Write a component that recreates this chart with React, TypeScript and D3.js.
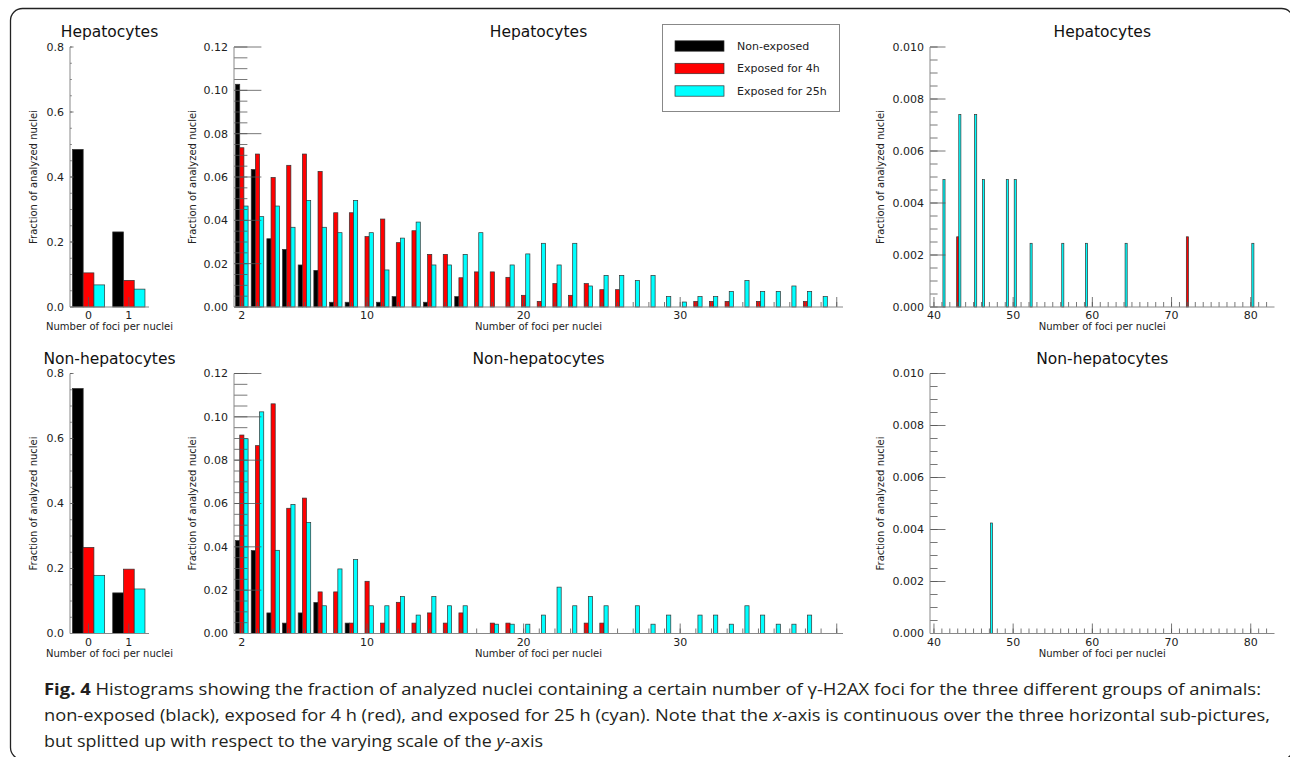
import React, { useEffect, useRef } from 'react';
import * as d3 from 'd3';

// foci per nucleus (x categories)
const lowFoci = [0, 1];
const midFoci = [2, 3, 4, 5, 6, 7, 8, 9, 10, 11, 12, 13, 14, 15, 16, 17, 18, 19, 20, 21, 22, 23, 24, 25, 26, 27, 28, 29, 30, 31, 32, 33, 34, 35, 36, 37, 38, 39];
const hepHighFoci = [41, 43, 45, 46, 49, 50, 52, 56, 59, 64, 72, 80];
const nonHighFoci = [47];

// Hepatocytes
const hepLowNonExposed = [0.485, 0.231];
const hepLow4h = [0.105, 0.082];
const hepLow25h = [0.068, 0.055];

const hepMidNonExposed = [0.1028, 0.0635, 0.0315, 0.0266, 0.0194, 0.0169, 0.0022, 0.0022, 0, 0.0022, 0.0048, 0, 0.0022, 0, 0.0048, 0, 0, 0, 0, 0, 0, 0, 0, 0, 0, 0, 0, 0, 0, 0, 0, 0, 0, 0, 0, 0, 0, 0];
const hepMid4h = [0.0735, 0.0706, 0.0598, 0.0654, 0.0706, 0.0626, 0.0435, 0.0435, 0.0325, 0.0406, 0.0297, 0.0352, 0.0243, 0.0243, 0.0135, 0.0162, 0.0162, 0.0137, 0.0054, 0.0026, 0.0108, 0.0054, 0.0108, 0.008, 0.008, 0, 0, 0, 0, 0.0026, 0.0026, 0.0026, 0, 0.0026, 0, 0, 0.0026, 0];
const hepMid25h = [0.0466, 0.0417, 0.0466, 0.0368, 0.0492, 0.0368, 0.0343, 0.0492, 0.0343, 0.0171, 0.0318, 0.0392, 0.0194, 0.0194, 0.0243, 0.0343, 0, 0.0194, 0.0245, 0.0294, 0.0194, 0.0294, 0.0097, 0.0146, 0.0146, 0.0122, 0.0146, 0.0048, 0.0023, 0.0048, 0.0048, 0.0072, 0.0122, 0.0072, 0.0072, 0.0097, 0.0072, 0.0048];

const hepHighNonExposed = [0, 0, 0, 0, 0, 0, 0, 0, 0, 0, 0, 0];
const hepHigh4h = [0, 0.0027, 0, 0, 0, 0, 0, 0, 0, 0, 0.0027, 0];
const hepHigh25h = [0.0049, 0.0074, 0.0074, 0.0049, 0.0049, 0.0049, 0.00245, 0.00245, 0.00245, 0.00245, 0, 0.00245];

// Non-hepatocytes
const nonLowNonExposed = [0.754, 0.125];
const nonLow4h = [0.265, 0.198];
const nonLow25h = [0.179, 0.137];

const nonMidNonExposed = [0.0429, 0.0383, 0.0095, 0.0048, 0.0095, 0.0143, 0, 0.0048, 0, 0, 0, 0, 0, 0, 0, 0, 0, 0, 0, 0, 0, 0, 0, 0, 0, 0, 0, 0, 0, 0, 0, 0, 0, 0, 0, 0, 0, 0];
const nonMid4h = [0.0916, 0.0867, 0.106, 0.0578, 0.0625, 0.0192, 0.0192, 0.0048, 0.0241, 0.0048, 0.0144, 0.0048, 0.0095, 0.0048, 0.0095, 0, 0.0048, 0.0048, 0, 0, 0, 0, 0.0048, 0.0048, 0, 0, 0, 0, 0, 0, 0, 0, 0, 0, 0, 0, 0, 0];
const nonMid25h = [0.0899, 0.1023, 0.0384, 0.0596, 0.0512, 0.0128, 0.0298, 0.0341, 0.0128, 0.0128, 0.0171, 0.0085, 0.0171, 0.0128, 0.0128, 0, 0.0043, 0.0043, 0.0043, 0.0085, 0.0214, 0.0128, 0.0171, 0.0128, 0, 0.0128, 0.0043, 0.0085, 0, 0.0085, 0.0085, 0.0043, 0.0128, 0.0085, 0.0043, 0.0043, 0.0085, 0];

const nonHighNonExposed = [0];
const nonHigh4h = [0];
const nonHigh25h = [0.00425];

const seriesNames = ['Non-exposed', 'Exposed for 4h', 'Exposed for 25h'];
const seriesColors = ['#000000', '#ff0000', '#00ffff'];

// tick labels
const lowYTicks = [0, 0.2, 0.4, 0.6, 0.8];
const midYTicks = [0, 0.02, 0.04, 0.06, 0.08, 0.1, 0.12];
const highYTicks = [0, 0.002, 0.004, 0.006, 0.008, 0.01];
const lowXTicks = [0, 1];
const midXTicks = [2, 10, 20, 30];
const highXTicks = [40, 50, 60, 70, 80];

const FONT = 'DejaVu Sans, sans-serif';

type PanelCfg = {
  title: string;
  foci: number[];
  series: number[][];
  xDomain: [number, number];
  xRange: [number, number];
  top: number;
  bottom: number;
  yTicks: number[];
  yMinorStep: number;
  yDigits: number;
  xTicks: number[];
  xMajor: number[];
  xMinor: number[];
  yLabelX: number;
};

function drawPanel(svg: any, p: PanelCfg) {
  const g = svg.append('g');
  const x = d3.scaleLinear().domain(p.xDomain).range(p.xRange);
  const yMax = p.yTicks[p.yTicks.length - 1];
  const y = d3.scaleLinear().domain([0, yMax]).range([p.bottom, p.top]);
  const width = p.xRange[1] - p.xRange[0];
  const bw = 0.8 / 3;

  // bars: three per foci value
  p.series.forEach((vals, s) => {
    g.append('g')
      .selectAll('rect')
      .data(p.foci.map((f, i) => ({ f, v: vals[i] })).filter(d => d.v > 0))
      .enter()
      .append('rect')
      .attr('x', d => x(d.f - 0.4 + s * bw))
      .attr('width', d => x(d.f - 0.4 + (s + 1) * bw) - x(d.f - 0.4 + s * bw))
      .attr('y', d => y(d.v))
      .attr('height', d => y(0) - y(d.v))
      .attr('fill', seriesColors[s])
      .attr('stroke', '#333')
      .attr('stroke-width', 0.7);
  });

  const tickColor = '#555';
  const majorLen = width * 0.045;
  const minorLen = width * 0.022;
  const x0 = p.xRange[0];

  // y ticks, pointing inward
  const yMinor = d3.range(0, yMax + p.yMinorStep / 2, p.yMinorStep);
  g.selectAll('.yminor').data(yMinor).enter().append('line')
    .attr('x1', x0).attr('x2', x0 + minorLen)
    .attr('y1', d => y(d)).attr('y2', d => y(d))
    .attr('stroke', tickColor).attr('stroke-width', 0.8);
  g.selectAll('.ymajor').data(p.yTicks).enter().append('line')
    .attr('x1', x0).attr('x2', x0 + majorLen)
    .attr('y1', d => y(d)).attr('y2', d => y(d))
    .attr('stroke', tickColor).attr('stroke-width', 0.8);
  const fmt = d3.format(`.${p.yDigits}f`);
  g.selectAll('.ylab').data(p.yTicks).enter().append('text')
    .attr('x', x0 - 6).attr('y', d => y(d)).attr('dy', '0.36em')
    .attr('text-anchor', 'end')
    .style('font-family', FONT).style('font-size', '11px').attr('fill', '#222')
    .text(d => fmt(d));

  // x ticks, pointing up
  g.selectAll('.xminor').data(p.xMinor).enter().append('line')
    .attr('x1', d => x(d)).attr('x2', d => x(d))
    .attr('y1', p.bottom).attr('y2', p.bottom - 5)
    .attr('stroke', tickColor).attr('stroke-width', 0.8);
  g.selectAll('.xmajor').data(p.xMajor).enter().append('line')
    .attr('x1', d => x(d)).attr('x2', d => x(d))
    .attr('y1', p.bottom).attr('y2', p.bottom - 10)
    .attr('stroke', tickColor).attr('stroke-width', 0.8);
  g.selectAll('.xlab').data(p.xTicks).enter().append('text')
    .attr('x', d => x(d)).attr('y', p.bottom + 12)
    .attr('text-anchor', 'middle')
    .style('font-family', FONT).style('font-size', '11px').attr('fill', '#222')
    .text(d => String(d));

  // spines (left and bottom only)
  g.append('line').attr('x1', x0).attr('x2', x0).attr('y1', p.top).attr('y2', p.bottom)
    .attr('stroke', '#888').attr('stroke-width', 1);
  g.append('line').attr('x1', x0).attr('x2', p.xRange[1]).attr('y1', p.bottom).attr('y2', p.bottom)
    .attr('stroke', '#888').attr('stroke-width', 1);

  const cx = (p.xRange[0] + p.xRange[1]) / 2;
  g.append('text')
    .attr('x', cx).attr('y', p.top - 10)
    .attr('text-anchor', 'middle')
    .style('font-family', FONT).style('font-size', '15.5px').attr('fill', '#111')
    .text(p.title);

  g.append('text')
    .attr('x', cx).attr('y', p.bottom + 23)
    .attr('text-anchor', 'middle')
    .style('font-family', FONT).style('font-size', '10px').attr('fill', '#222')
    .text('Number of foci per nuclei');

  g.append('text')
    .attr('transform', `translate(${p.yLabelX},${(p.top + p.bottom) / 2}) rotate(-90)`)
    .attr('text-anchor', 'middle')
    .style('font-family', FONT).style('font-size', '10px').attr('fill', '#222')
    .text('Fraction of analyzed nuclei');
}

const App = () => {
  const svgRef = useRef<SVGSVGElement>(null);

  useEffect(() => {
    const svg = d3.select(svgRef.current);
    svg.selectAll('*').remove();

    svg.append('rect').attr('width', 1290).attr('height', 757).attr('fill', '#fff');

    // outer frame
    svg.append('rect')
      .attr('x', 10.5).attr('y', 8.5).attr('width', 1283).attr('height', 751).attr('rx', 12)
      .attr('fill', 'none').attr('stroke', '#222').attr('stroke-width', 1.3);

    const rows = [
      { top: 47, bottom: 307, name: 'Hepatocytes', low: [hepLowNonExposed, hepLow4h, hepLow25h], mid: [hepMidNonExposed, hepMid4h, hepMid25h], highFoci: hepHighFoci, high: [hepHighNonExposed, hepHigh4h, hepHigh25h] },
      { top: 373.5, bottom: 633.5, name: 'Non-hepatocytes', low: [nonLowNonExposed, nonLow4h, nonLow25h], mid: [nonMidNonExposed, nonMid4h, nonMid25h], highFoci: nonHighFoci, high: [nonHighNonExposed, nonHigh4h, nonHigh25h] },
    ];

    rows.forEach(r => {
      drawPanel(svg, {
        title: r.name, foci: lowFoci, series: r.low,
        xDomain: [-0.46, 1.5], xRange: [70, 149], top: r.top, bottom: r.bottom,
        yTicks: lowYTicks, yMinorStep: 0.05, yDigits: 1,
        xTicks: lowXTicks, xMajor: lowXTicks, xMinor: [], yLabelX: 37,
      });
      drawPanel(svg, {
        title: r.name, foci: midFoci, series: r.mid,
        xDomain: [1.5, 40.4], xRange: [234, 843], top: r.top, bottom: r.bottom,
        yTicks: midYTicks, yMinorStep: 0.005, yDigits: 2,
        xTicks: midXTicks, xMajor: [...midXTicks, 40], xMinor: d3.range(2, 41), yLabelX: 196,
      });
      drawPanel(svg, {
        title: r.name, foci: r.highFoci, series: r.high,
        xDomain: [39.5, 83], xRange: [930, 1274.5], top: r.top, bottom: r.bottom,
        yTicks: highYTicks, yMinorStep: 0.0005, yDigits: 3,
        xTicks: highXTicks, xMajor: highXTicks, xMinor: d3.range(40, 83), yLabelX: 884,
      });
    });

    // legend
    const lg = svg.append('g');
    lg.append('rect').attr('x', 662.5).attr('y', 24.5).attr('width', 177).attr('height', 87)
      .attr('fill', '#fff').attr('stroke', '#888').attr('stroke-width', 1);
    seriesNames.forEach((name, i) => {
      const cy = 46 + i * 22.5;
      lg.append('rect').attr('x', 675).attr('y', cy - 5.2).attr('width', 49).attr('height', 10.4)
        .attr('fill', seriesColors[i]).attr('stroke', '#333').attr('stroke-width', 0.7);
      lg.append('text').attr('x', 737).attr('y', cy).attr('dy', '0.36em')
        .style('font-family', FONT).style('font-size', '11px').attr('fill', '#222')
        .text(name);
    });

    // caption
    const cap = svg.append('g').style('font-family', '"Open Sans", sans-serif').style('font-size', '16.5px').attr('fill', '#231f20');
    const l1 = cap.append('text').attr('x', 44).attr('y', 695).attr('textLength', 1217).attr('lengthAdjust', 'spacingAndGlyphs');
    l1.append('tspan').attr('font-weight', 'bold').text('Fig. 4');
    l1.append('tspan').text(' Histograms showing the fraction of analyzed nuclei containing a certain number of γ-H2AX foci for the three different groups of animals:');
    const l2 = cap.append('text').attr('x', 44).attr('y', 721).attr('textLength', 1226).attr('lengthAdjust', 'spacingAndGlyphs');
    l2.append('tspan').text('non-exposed (black), exposed for 4 h (red), and exposed for 25 h (cyan). Note that the ');
    l2.append('tspan').attr('font-style', 'italic').text('x');
    l2.append('tspan').text('-axis is continuous over the three horizontal sub-pictures,');
    const l3 = cap.append('text').attr('x', 44).attr('y', 747).attr('textLength', 499).attr('lengthAdjust', 'spacingAndGlyphs');
    l3.append('tspan').text('but splitted up with respect to the varying scale of the ');
    l3.append('tspan').attr('font-style', 'italic').text('y');
    l3.append('tspan').text('-axis');
  }, []);

  return (
    <svg ref={svgRef} width={1290} height={757} style={{ position: 'absolute', left: 0, top: 0, display: 'block' }} />
  );
};

export default App;
